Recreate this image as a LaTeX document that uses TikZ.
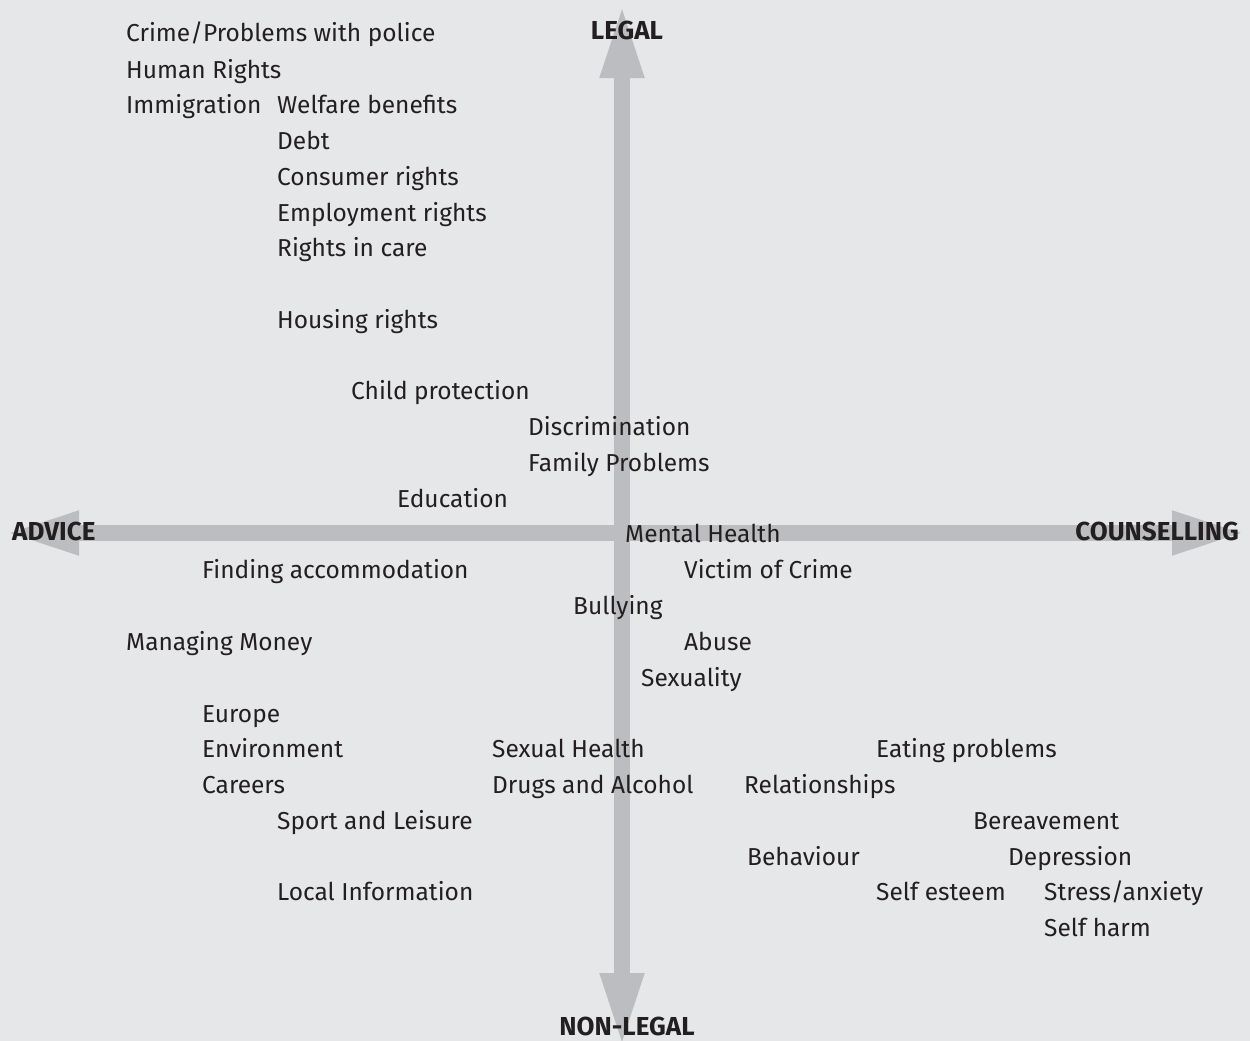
\documentclass[tikz,border=0pt]{standalone}
\usepackage{fontspec}
\setmainfont{Fira Sans}
\usetikzlibrary{arrows.meta}
\definecolor{paper}{HTML}{E6E7E8}
\definecolor{axisgrey}{HTML}{BCBDC0}
\definecolor{ink}{HTML}{231F20}
\begin{document}
\begin{tikzpicture}[x=1pt,y=-1pt,
  item/.style={anchor=base west,inner sep=0pt,text=ink,font=\fontsize{24.5}{28}\selectfont},
  pole/.style={anchor=base,inner sep=0pt,text=ink,font=\fontsize{26}{28}\selectfont\bfseries},
  axis/.style={draw=axisgrey,line width=16pt,
    arrows={{Triangle[width=40pt,length=74pt,fill=axisgrey]}-{Triangle[width=40pt,length=74pt,fill=axisgrey]}}}]
  % background and frame of the page
  \fill[paper] (0,0) rectangle (1250,1041);
  \useasboundingbox (0,0) rectangle (1250,1041);

  % ends of the two axes
  \coordinate (west) at (5,533);
  \coordinate (east) at (1246,533);
  \coordinate (north) at (622,4);
  \coordinate (south) at (622,1047);

  \draw[axis] (west) -- (east);
  \draw[axis] (north) -- (south);

  % pole labels
  \node[pole] (legal) at (627,40) {LEGAL};
  \node[pole] (nonlegal) at (627,1035) {NON-LEGAL};
  \node[pole,anchor=base west] (advice) at (12,540) {ADVICE};
  \node[pole,anchor=base east] (counselling) at (1239,540) {COUNSELLING};

  % topics
  \node[item] (crime) at (126,42) {Crime/Problems with police};
  \node[item] (human) at (126,78) {Human Rights};
  \node[item] (immig) at (126,113) {Immigration};
  \node[item] (welfare) at (277,113) {Welfare benefits};
  \node[item] (debt) at (277,149) {Debt};
  \node[item] (consumer) at (277,185) {Consumer rights};
  \node[item] (employ) at (277,221) {Employment rights};
  \node[item] (care) at (277,256) {Rights in care};
  \node[item] (housing) at (277,328) {Housing rights};
  \node[item] (child) at (351,399) {Child protection};
  \node[item] (discrim) at (528,435) {Discrimination};
  \node[item] (family) at (528,471) {Family Problems};
  \node[item] (educ) at (397,507) {Education};
  \node[item] (mental) at (625,542) {Mental Health};
  \node[item] (accom) at (202,578) {Finding accommodation};
  \node[item] (victim) at (684,578) {Victim of Crime};
  \node[item] (bully) at (573,614) {Bullying};
  \node[item] (money) at (126,650) {Managing Money};
  \node[item] (abuse) at (684,650) {Abuse};
  \node[item] (sexuality) at (641,686) {Sexuality};
  \node[item] (europe) at (202,722) {Europe};
  \node[item] (environ) at (202,757) {Environment};
  \node[item] (sexhealth) at (492,757) {Sexual Health};
  \node[item] (eating) at (876,757) {Eating problems};
  \node[item] (careers) at (202,793) {Careers};
  \node[item] (drugs) at (492,793) {Drugs and Alcohol};
  \node[item] (relation) at (744,793) {Relationships};
  \node[item] (sport) at (277,829) {Sport and Leisure};
  \node[item] (bereave) at (973,829) {Bereavement};
  \node[item] (behave) at (747,865) {Behaviour};
  \node[item] (depress) at (1008,865) {Depression};
  \node[item] (local) at (277,900) {Local Information};
  \node[item] (esteem) at (876,900) {Self esteem};
  \node[item] (stress) at (1044,900) {Stress/anxiety};
  \node[item] (harm) at (1044,936) {Self harm};
\end{tikzpicture}
\end{document}
